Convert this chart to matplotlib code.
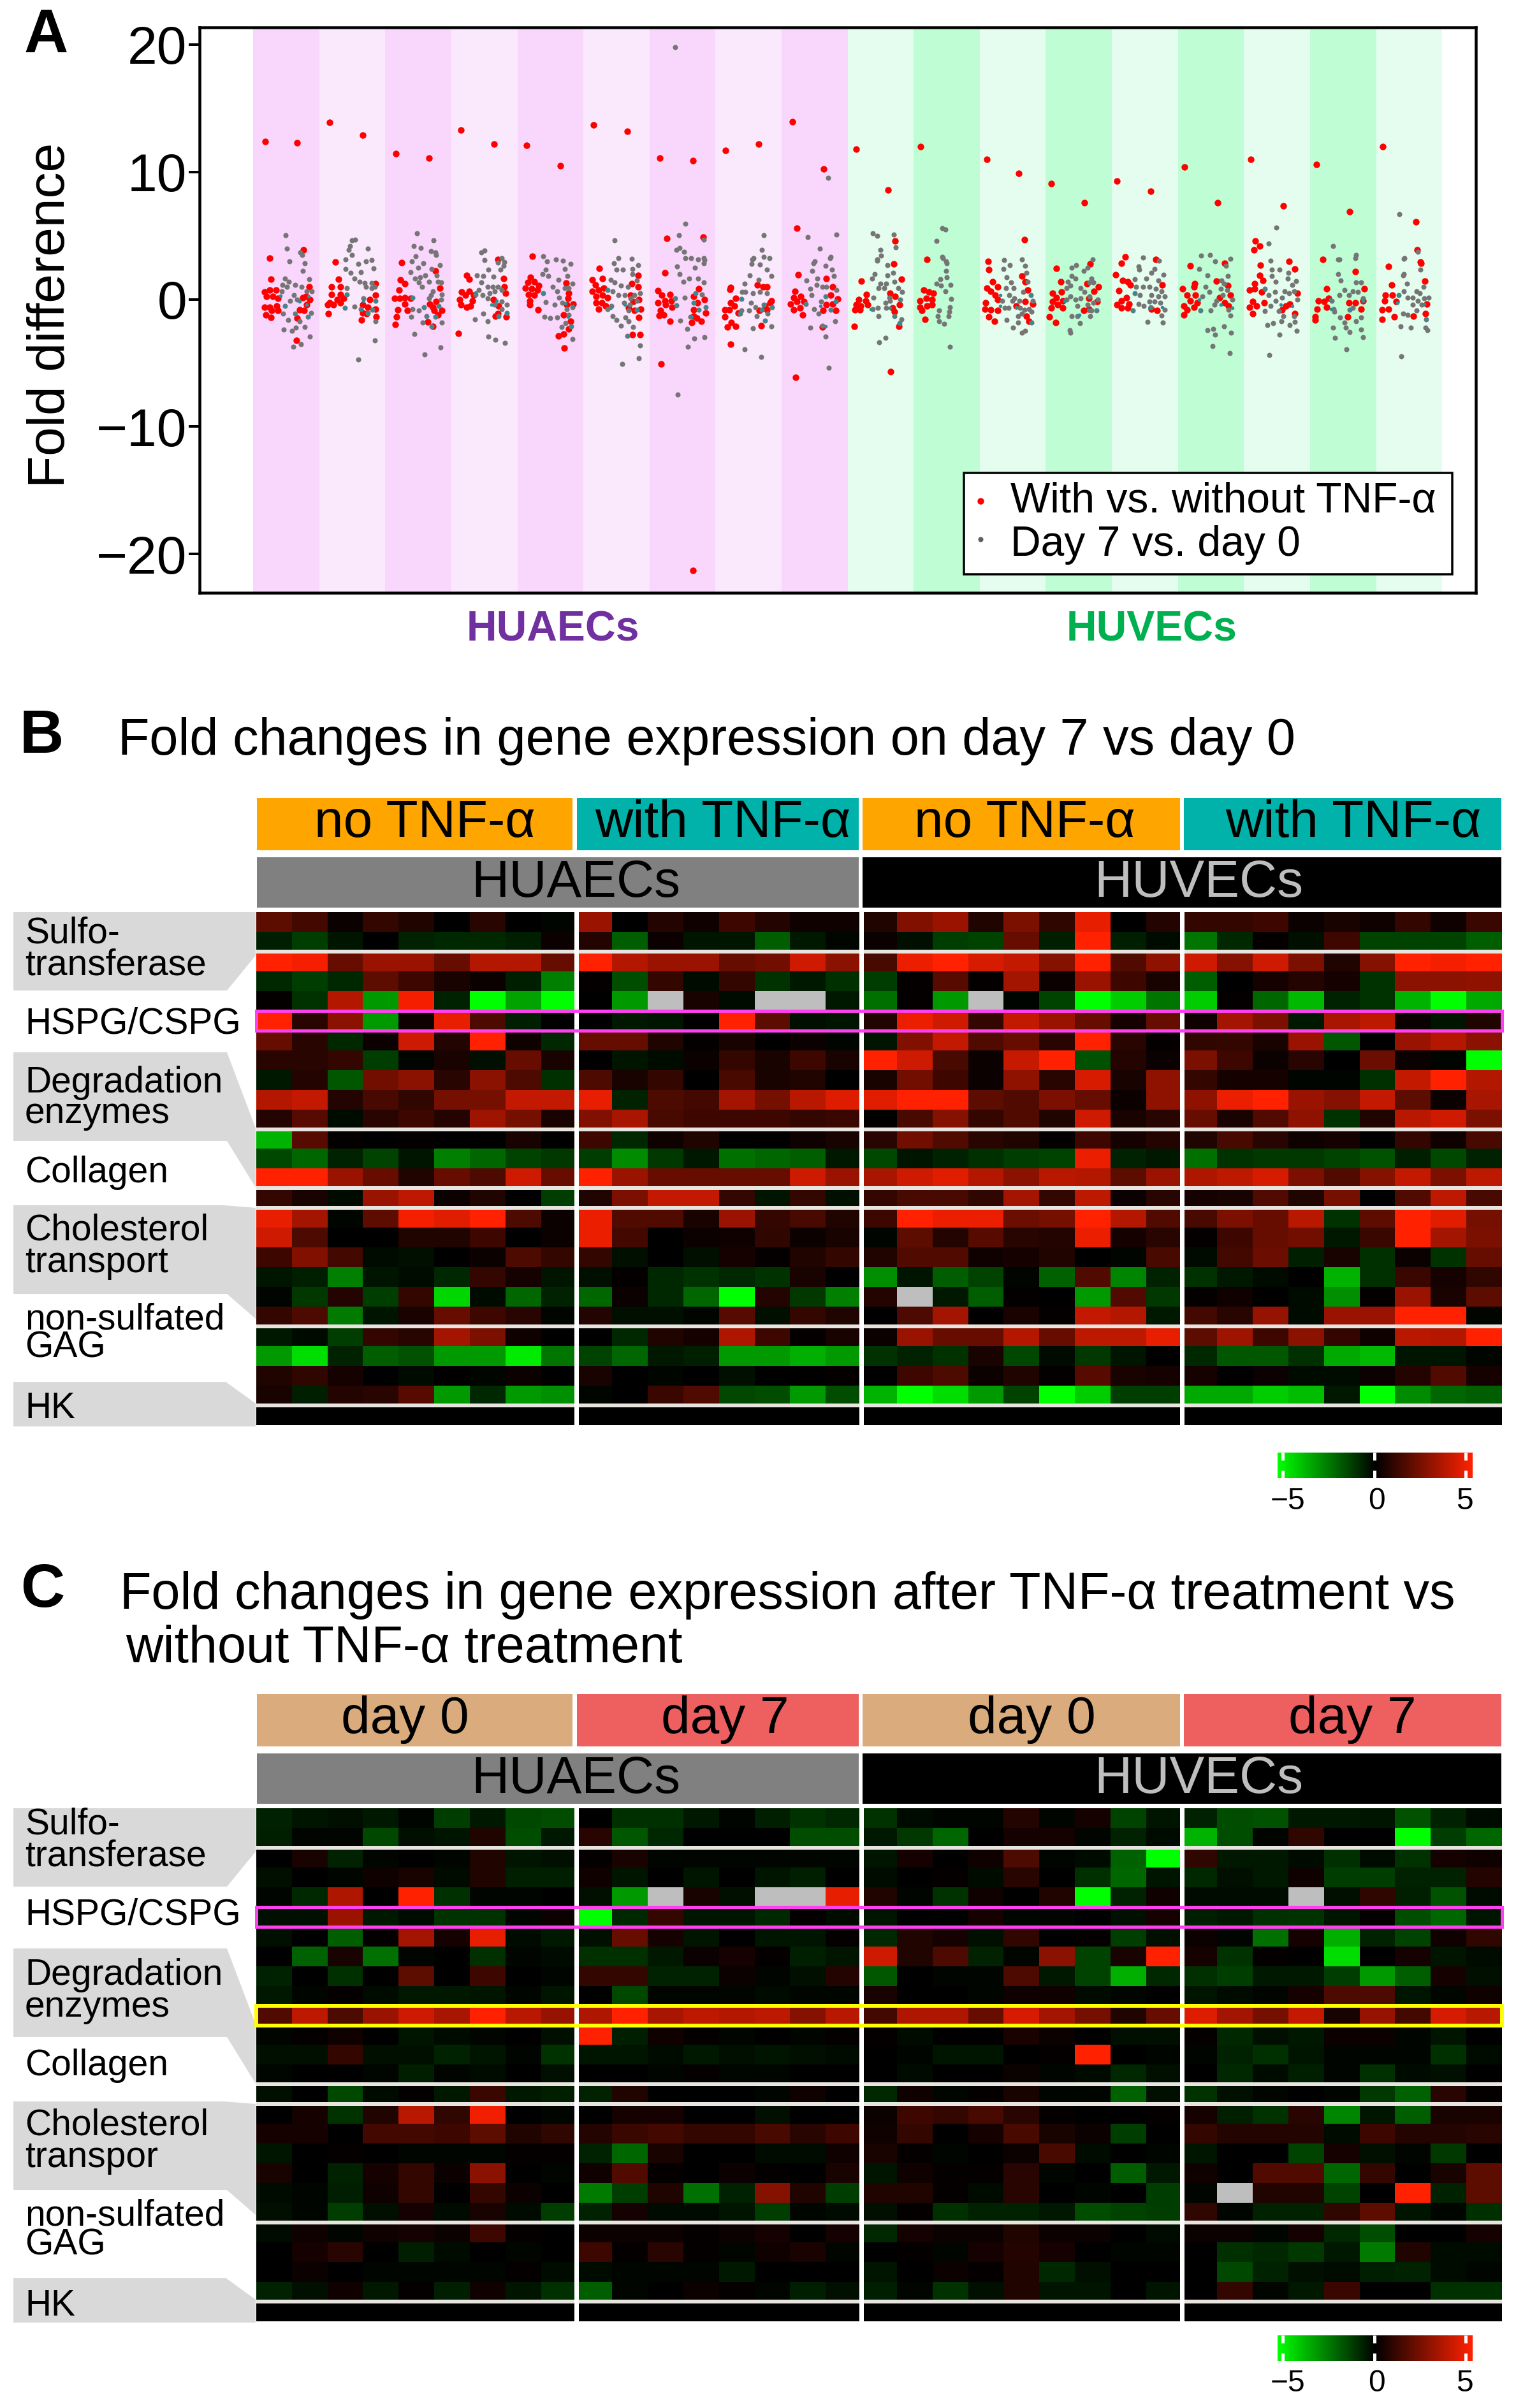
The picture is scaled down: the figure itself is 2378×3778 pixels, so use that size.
import numpy as np
import matplotlib
matplotlib.use('Agg')
import matplotlib.pyplot as plt
from matplotlib.colors import LinearSegmentedColormap, Normalize
from matplotlib.cm import ScalarMappable
from matplotlib.patches import Rectangle, Polygon

plt.rcParams['font.family'] = ['Liberation Sans', 'DejaVu Sans']

W, H = 2378, 3778
na = float('nan')

# panel A, one list per band: (percent across band, fold difference)
red_pts = [
 [(18,12.4),(67,12.3),(25,3.25),(27,1.6),(17,.6),(25,.75),(35,.75),(20,.25),(30,.25),(38,.1),(17,-.6),(25,-.6),(36,-.5),(38,-.9),(28,-.9),(19,-1.25),(27,-1.45),(76,3.9),(85,1),(75,.15),(86,0),(80,.25),(70,-.85),(77,-.9),(67,-1.5),(66,-3.25),(81,-.4)],
 [(16,13.9),(66,12.9),(24,2.95),(29,1.6),(19,1),(32,1),(19,.4),(32,.4),(37,.1),(27,0),(16,-.25),(13,-.4),(22,-.4),(32,-.25),(14,-1.15),(85,1.25),(85,.35),(77,0),(66,-.4),(74,-.6),(85,-.75),(66,-1.1),(72,-1.15),(64,-1.65),(86,-1.4)],
 [(16,11.45),(66,11.1),(25,2.9),(23,1.55),(30,1.25),(21,.75),(14,.1),(22,.1),(30,.15),(38,.1),(30,-.35),(19,-.85),(34,-.9),(17,-1.4),(15,-2),(76,2.25),(83,.9),(67,-.35),(77,-.15),(86,-.9),(74,-.9),(80,-1.25),(72,-.6),(64,-1.8),(72,-2.15)],
 [(15,13.3),(65,12.2),(23,1.9),(27,1.6),(16,.6),(27,.65),(34,.35),(13,0),(32,-.1),(15,-.4),(23,-.6),(29,-.5),(21,.35),(11,-2.7),(79,1.65),(80,1),(82,.5),(64,0),(72,-.5),(67,-1.35),(83,-1.4),(71,-1.15),(71,3.15)],
 [(14,12.1),(65,10.5),(23,3.4),(20,1.75),(16,1.35),(26,1.4),(32,1.1),(12,.9),(22,.85),(30,.75),(17,.4),(26,.35),(19,-.1),(19,-.4),(31,-.8),(74,1.3),(78,.5),(84,-.35),(75,-.4),(70,-1.25),(81,-1.75),(78,-2.35),(70,-2.75),(62,-2.9),(71,-3.85),(77,.1)],
 [(15,13.7),(66,13.2),(24,2.45),(13,1.55),(29,1.65),(18,1.15),(13,.65),(23,.75),(31,.9),(19,.25),(29,.35),(37,.15),(19,-.25),(28,-.25),(23,-.75),(34,-.5),(83,1.9),(73,1.25),(83,1),(71,.35),(84,0),(75,-.15),(68,-.65),(87,-.75),(77,-.9),(84,-1.45),(74,-2.8),(86,-2.8)],
 [(16,11.1),(66,10.9),(26,4.8),(81,4.9),(66,-21.3),(23,2.1),(13,.7),(19,.35),(31,.4),(13,-.25),(23,-.1),(33,-.1),(24,-.4),(34,-.6),(17,-.9),(15,-1.3),(21,-1.25),(31,-1.75),(18,-5.1),(75,.85),(67,.25),(83,0),(73,-.25),(67,-.85),(85,-1.1),(67,-1.35),(64,-1.85),(78,-1.75),(72,-1.5)],
 [(15,11.7),(65,12.2),(23,.95),(22,.8),(31,.1),(23,-.25),(14,-.85),(29,-.5),(21,-.85),(34,-1.1),(14,-1.4),(24,-1.85),(18,-2.2),(31,-2.15),(23,-3.55),(63,1.15),(72,1),(78,1),(85,-.1),(75,-.5),(66,-.9),(78,-.8),(69,-2.1),(83,-.25)],
 [(16,13.95),(64,10.25),(23,5.6),(25,1.95),(20,.65),(18,.15),(29,.25),(14,-.35),(23,-.15),(34,-.15),(18,-.85),(28,-.65),(32,-1.25),(21,-6.15),(68,1.65),(77,1),(74,.35),(85,.05),(68,-.4),(77,-.35),(82,-.9),(63,-.9),(62,-2.2)],
 [(13,11.8),(61,8.6),(72,4.6),(21,1.45),(70,2.8),(81,1.6),(28,.4),(17,0),(27,-.1),(13,-.4),(20,-.5),(30,-.4),(11,-.85),(19,-.85),(10,-2.15),(64,.5),(72,.25),(68,-.65),(79,-.4),(71,-1),(78,-2.15),(65,-5.7)],
 [(10,12),(20,3.15),(15,.75),(23,.6),(30,.5),(9,-.1),(19,.1),(28,0),(9,-.6),(12,-.9),(20,-.5),(28,-.4),(17,-1.6)],
 [(11,11),(59,9.9),(13,3),(14,2.35),(19,1.4),(11,.9),(27,1),(17,.65),(23,.35),(9,-.25),(27,0),(8,-.75),(17,-.85),(27,-.9),(14,-1.4),(22,-1.75),(68,4.7),(64,1.85),(69,1.4),(73,.75),(69,-.15),(80,-.35),(55,-.5),(71,-1.35),(74,-1.75)],
 [(8,9.1),(58,7.6),(16,2.45),(23,1.4),(10,.5),(24,.6),(16,.15),(26,-.1),(10,-.15),(18,-.4),(8,-.65),(26,-.65),(5,-1.4),(15,-1.85),(67,2.8),(62,1.25),(80,1),(73,.65),(78,-.15),(65,.1),(57,-.9),(65,-.75)],
 [(8,9.3),(59,8.5),(20,3.35),(14,2.85),(6,1.95),(16,1.5),(24,1.4),(28,1.15),(11,.7),(22,.15),(14,-.1),(8,-.4),(26,-.35),(14,-.65),(24,-.65),(67,3.15),(76,1.15),(60,-.75),(68,-.9)],
 [(10,10.4),(60,7.6),(19,2.65),(25,1.25),(7,.85),(24,1),(14,.35),(26,.35),(9,-.5),(19,-.1),(29,-.25),(14,-.85),(24,-.6),(9,-1.25),(58,1.45),(71,2.85),(76,1.1),(63,.15),(79,.35),(71,-.25),(77,-.5)],
 [(10,11),(60,7.35),(17,4.6),(24,4.2),(15,3.9),(25,2.7),(68,3),(77,2.4),(24,1.9),(29,1.5),(16,1.25),(8,.75),(16,.85),(27,.6),(31,-.25),(13,-.15),(8,-.6),(19,-.5),(13,-1.15),(81,.5),(63,-.5),(69,-.35),(58,-.85),(77,-1.15)],
 [(10,10.6),(60,6.9),(19,3.15),(69,2.2),(25,.85),(82,.85),(28,.1),(13,-.1),(21,-.15),(11,-.75),(25,-.6),(8,-1.4),(8,-1.65),(59,-.25),(69,-.25),(77,-.75),(57,-1.4),(80,-.1)],
 [(10,12),(60,6.1),(62,3.9),(67,2.95),(19,2.6),(68,2.85),(24,1.15),(74,1.45),(14,.35),(25,.35),(13,-.1),(30,-.15),(9,-.85),(19,-.75),(27,-1.4),(9,-1.6),(56,-1.35),(75,-1.15),(77,-.35)],
]

gray_pts = [
 [(49,5.05),(51,4),(71,3.7),(48,1.65),(44,1.15),(51,1),(43,.65),(54,1.4),(64,1.15),(73,1),(81,.65),(85,1.6),(78,2.85),(75,2.25),(55,3),(74,3.5),(62,.35),(56,-.1),(67,0),(48,-.5),(45,-1.15),(64,-1.15),(53,-1.65),(88,-1.1),(83,-1.4),(70,-1.75),(65,-2.25),(59,-2.5),(46,-2.4),(78,-2.2),(86,-2.95),(72,-3.55),(61,-3.75),(89,.65)],
 [(50,4.65),(47,4.2),(54,4.7),(45,3.9),(74,4),(40,2.4),(48,2.1),(53,1.65),(61,1.4),(69,1.3),(79,1.3),(79,.9),(71,1),(84,1),(59,2.8),(63,2.15),(40,3.15),(71,3),(79,3.1),(82,2.45),(42,.9),(42,.4),(67,.1),(85,-.1),(39,-.65),(53,-.55),(63,-.75),(80,-.8),(74,-1.1),(85,-1.75),(84,-3.25),(59,-4.75),(50,3.5)],
 [(48,5.2),(73,4.65),(43,4.2),(54,4.05),(69,3.8),(76,3.7),(40,3),(58,2.85),(50,2.5),(38,2.15),(83,2.7),(70,2.4),(46,3.4),(77,3.5),(45,1.65),(53,1.75),(61,1.9),(66,1.4),(56,1),(51,1.35),(78,1.9),(80,1.4),(85,1.35),(72,.65),(69,.35),(66,.1),(86,.4),(85,0),(81,-.5),(41,.15),(41,-.75),(51,-.9),(59,-.6),(62,-1.35),(76,-1.4),(39,-1.4),(57,-1.85),(70,-2.15),(86,-1.85),(44,-2.75),(84,-3.8),(60,-4.35)],
 [(50,3.85),(45,3.7),(76,3.25),(80,2.95),(50,3.1),(71,2.9),(79,2.65),(74,2.35),(56,2.35),(39,1.9),(48,1.85),(64,1.8),(45,1.35),(42,.75),(37,.4),(47,.35),(55,1),(63,1),(71,1),(58,.5),(66,.65),(55,.1),(76,.75),(66,-.4),(76,-.15),(84,-.4),(76,-.75),(84,-1.1),(72,-1.35),(48,-1.15),(55,-1.75),(36,-1.6),(56,-2.95),(67,-3.2),(81,-3.45)],
 [(39,3.4),(45,3),(58,3.15),(69,3.05),(81,2.8),(72,2.4),(76,1.85),(62,1.55),(43,2.35),(38,2),(47,1.85),(83,1.25),(54,1),(60,.65),(72,.9),(78,.9),(63,.15),(68,-.25),(39,.5),(43,-.2),(56,-.4),(75,-.75),(83,-.6),(78,-1.25),(41,-1.4),(50,-1.5),(60,-1.45),(73,-1.9),(67,-2.2),(82,-2.15),(83,-3.15)],
 [(47,4.65),(53,3.25),(73,3.2),(83,2.7),(46,2.85),(50,2.35),(60,2.35),(74,2.4),(74,2),(81,1.5),(41,1.55),(47,1.35),(57,1.1),(37,.75),(44,.65),(53,.35),(67,1),(63,.35),(62,-.25),(71,.1),(77,.35),(86,.5),(70,-.4),(81,-.1),(37,-.75),(42,-.5),(68,-.9),(81,-.85),(64,-1.45),(68,-1.75),(44,-1.35),(50,-1.65),(57,-2.1),(75,-2.2),(66,-2.9),(86,-3.65),(84,-4.65),(59,-5.1)],
 [(39,19.8),(54,5.95),(45,5.05),(46,4.05),(82,4.7),(41,3.9),(52,3.75),(63,3.25),(82,3.25),(54,3.25),(69,2.5),(74,3.15),(83,3.1),(82,2.85),(42,2.6),(46,2),(51,1.4),(60,1.65),(74,1.65),(82,1.35),(39,.1),(41,-.45),(53,.15),(70,.5),(79,.4),(67,-.25),(85,-.6),(75,-.8),(62,-1.4),(47,-1.7),(57,-2.35),(68,-3.1),(83,-3),(58,-3.75),(43,-7.5)],
 [(73,5.05),(70,3.9),(55,2.8),(58,3.25),(56,3.15),(73,3.35),(82,3.25),(67,2.75),(78,2.35),(85,1.85),(52,1.9),(44,1.25),(40,.6),(45,.6),(57,.5),(67,.6),(78,.5),(65,1.55),(39,.05),(54,-.25),(60,-.6),(73,-.4),(86,-.6),(70,-.85),(39,-.9),(37,-1.15),(51,-.9),(62,-1.35),(79,-1.15),(75,-1.7),(57,-2.3),(85,-2.15),(44,-3.95),(69,-4.55)],
 [(70,9.55),(40,4.9),(83,5.1),(58,4),(74,3.35),(50,3),(73,3.25),(48,2.85),(46,2.25),(38,1.5),(67,2.65),(76,2.35),(79,1.85),(54,1.65),(53,1.15),(43,.85),(62,1),(68,1),(45,.35),(83,.75),(60,-.15),(67,.25),(37,-.35),(49,-.75),(56,-1.15),(82,-.15),(74,-.85),(81,-1.75),(62,-2.1),(43,-2.25),(67,-2.95),(71,-5.4)],
 [(38,5.2),(45,5),(70,5.1),(73,4.1),(50,3.9),(45,3.15),(45,3.05),(60,2.7),(51,3.45),(69,2.1),(60,1.9),(41,2),(37,1.65),(50,1.25),(47,.9),(58,1.25),(55,.9),(71,1.4),(77,.9),(82,.6),(39,.15),(38,-.75),(46,-.65),(57,-.25),(63,.15),(58,-.65),(64,-.1),(80,0),(47,-1.35),(71,-1.35),(81,-1.6),(79,-1.9),(57,-3.05),(48,-3.4)],
 [(43,5.6),(35,4.6),(48,5.5),(43,3.35),(49,3),(44,3.25),(50,2.85),(49,2.25),(50,1.75),(40,1.6),(35,1.25),(41,1.1),(48,.65),(56,1.15),(57,.05),(55,-.6),(54,-1),(53,-1.35),(38,-.9),(36,-1.35),(38,-1.75),(46,-1.95),(55,-3.75)],
 [(37,3.1),(46,2.7),(36,2.4),(64,3.15),(69,2.65),(71,2.1),(41,1.75),(47,1.35),(40,.9),(51,.9),(73,1.4),(45,.35),(52,.1),(60,-.1),(34,-.1),(38,-.65),(44,-.65),(49,-.1),(61,-.65),(68,-.85),(77,.35),(80,-.1),(74,-.75),(58,-1.35),(64,-1.15),(78,-1),(41,-1.65),(50,-2.25),(78,-1.85),(64,-2.65),(58,-1.85),(69,-2.5),(66,.6)],
 [(46,2.7),(39,2.5),(71,3.15),(63,2.5),(57,2.25),(39,1.85),(45,1.65),(33,1.4),(37,1.1),(31,.9),(53,.9),(69,1.65),(66,1.35),(72,1.35),(58,.6),(37,.25),(31,0),(45,0),(53,.1),(48,-.5),(66,.25),(79,0),(72,-.25),(63,-.4),(69,-.9),(77,-.9),(39,-1.35),(48,-1.35),(67,-1.35),(52,-1.9),(36,-2.45),(37,-2.65)],
 [(47,3.3),(71,3.05),(40,2.6),(41,2.35),(65,2.4),(60,2.1),(78,1.95),(70,1.5),(35,1.6),(52,1.65),(37,1),(47,1),(57,1),(35,.5),(42,.35),(67,.85),(75,.65),(60,.35),(70,.25),(80,.25),(40,-.35),(57,-.15),(65,-.15),(73,-.25),(48,-.5),(59,-.6),(32,-.9),(80,-.8),(75,-1.3),(54,-1.8),(77,-1.85)],
 [(35,3.45),(49,3.5),(56,3),(79,3.2),(73,2.65),(32,2.4),(45,1.9),(76,1.85),(66,1.5),(42,1),(48,.6),(70,1.25),(65,.85),(75,.75),(37,.25),(58,-.1),(68,.35),(82,0),(55,-.4),(34,-.9),(50,-.9),(77,-.85),(79,-1.3),(45,-2.45),(53,-2.35),(56,-2.8),(70,-2.15),(80,-2.65),(52,-3.7),(78,-4.25)],
 [(49,5.65),(37,4.4),(40,3.05),(42,2.35),(42,1.85),(48,1.4),(54,2.35),(67,2.1),(66,1.65),(79,1.45),(32,.85),(37,.35),(47,.6),(48,-.1),(61,.65),(73,1.15),(76,.65),(68,.5),(58,.15),(81,0),(40,-.5),(32,-.95),(53,-.95),(60,-1.35),(57,-1.75),(76,-1.35),(77,-1.8),(69,-2.05),(35,-2.05),(44,-1.9),(80,-2.5),(54,-2.8),(38,-4.4)],
 [(35,4.2),(70,3.5),(44,3.15),(43,3.15),(69,3.25),(43,2),(46,1.5),(70,1.35),(77,1.35),(65,.65),(52,.75),(44,.35),(59,.35),(72,.6),(80,.1),(33,-.1),(36,-.75),(37,-1),(60,-.85),(65,-.65),(45,-1.45),(52,-1.85),(54,-2.25),(70,-1.75),(77,-1.45),(35,-2.25),(60,-2.6),(77,-2.4),(80,-3),(38,-3.05),(55,-3.95)],
 [(35,6.7),(43,3.25),(63,3.75),(42,2),(42,3.2),(47,1.25),(67,2.35),(41,1.9),(72,1),(66,.5),(55,.15),(63,-.1),(73,.1),(80,.15),(48,.15),(34,.35),(42,.65),(61,.65),(55,-.4),(69,-.4),(41,-1.15),(48,-1.25),(61,-.9),(76,-1.6),(37,-2.15),(53,-2.25),(75,-2.25),(78,-2.45),(38,-4.5)],
]

# points where the grey sits on the red and prints teal
teal_pts = [
 [(41,.3),(48,-.5),(70,-.15),(81,-.4),(84,.25),(64,-1.2),(84,-1.4)],
 [(42,.4),(67,-.1),(85,-.1),(64,-.8),(39,-.65),(74,-1.1),(80,-.8)],
 [(42,.15),(59,-.6),(82,-.55),(62,-1.35),(76,-1.4),(70,-2.15)],
 [(37,.55),(69,-.1),(61,-.4),(84,-1.1),(72,-1.4)],
 [(39,.5),(73,-.3),(83,-.5),(77,-1.4),(82,-2.15)],
 [(37,.8),(41,-.65),(63,-.4),(81,-.85),(67,-2.9)],
 [(39,.1),(41,-.45),(70,.5),(67,-.25),(75,-.8),(64,-1.4),(85,-.6)],
 [(39,.05),(37,-1.1),(73,-.4),(86,-.6),(70,-.85),(75,-1.7)],
 [(37,-.35),(67,.25),(59,-.5),(74,-.85),(81,-.15),(67,-2.15)],
 [(35,-.75),(64,-.65),(80,0),(71,-1.35),(79,-1.9)],
 [],
 [(31,.35),(31,-.5),(55,-.6),(77,.35),(78,-1.85)],
 [(29,-.1),(64,-.85),(77,-.9),(51,-1.25)],
 [(32,-.9),(35,.5),(57,-.65),(76,-.6)],
 [(32,0),(34,-.9),(65,-.4),(82,-.65)],
 [(32,.75),(56,-.4),(73,-.5)],
 [(31,0),(32,-.75),(60,-.75),(80,-.1)],
 [(32,-.25),(34,.35),(73,-.35),(76,-1.6)],
]

# panel B, fold changes day 7 vs day 0
b_huaec = [
 [1.8,1.3,.2,1,.6,0,.8,0,-.1, 3,0,.7,.3,1.2,.7,.3,.3],
 [-.6,-1.2,-.4,0,-.7,-.8,-.8,-.6,.2, .7,-1.8,.2,-.4,-.4,-1.8,-.5,-.1],
 [5,4.8,2,3,3,2,3.5,3.5,2, 5,3.5,3,3,2,2.2,4,2.7],
 [-.8,-1.2,-.8,1.8,1.2,.5,.2,-.6,-2.5, .1,-1.5,1,-.2,1,-1,-.5,-.9],
 [.1,-1,3.5,-3,4.8,-.7,-5,-3.2,-5, 0,-3,na,.5,-.2,na,na,-.5],
 [5,.8,2.7,-3,.3,4.5,1.5,-.6,0, 0,-.5,-.4,0,5,1.8,-.3,-.4],
 [2,.8,-.8,.2,4,.7,5,.3,-.8, 2,2,.6,.1,.5,0,.2,-.1],
 [.8,.8,1,-1.2,-.1,.5,-.3,2,.5, 0,-.4,-.2,.2,1,.5,1.2,.5],
 [-.5,.7,-1.7,2.2,2.7,.8,2.7,1.5,-.9, 1.5,.5,1,0,1.4,.5,.6,0],
 [3.5,3.8,.7,1.4,.9,2.3,2.3,3.8,3.8, 4.5,-.7,1.5,1.3,3.2,2.3,3.6,4.3],
 [.7,1.7,-.2,.8,1.2,.7,3.1,2.3,.5, 2.5,3.3,1.4,1.2,1.2,1.2,1,1.1],
 [-3.5,1.7,.1,0,.1,0,0,.5,0, 1.2,-.8,.3,.6,0,0,.3,.5],
 [-1.4,-2,-.7,-1.3,-.4,-2.5,-2,-1.3,-1.1, -1.2,-2.7,-1.1,-.5,-2.2,-2,-1.8,-.5],
 [5,5,3,2,.6,2,1.5,4,2, 5,3,2,2,2,2,4,3],
 [1,.5,-.2,3,3.7,.2,.6,0,-1.2, .6,2.4,3.8,3.8,1,-.4,1,-.3],
 [4.5,3.2,-.1,1.8,4.8,4.4,5,1.5,.2, 4.6,1.6,1.6,.5,3,1,1.4,.6],
 [4,1.5,0,0,.6,.6,1.2,0,.2, 4.6,1.3,0,.2,.3,.9,.2,.5],
 [1.2,2.5,1.3,-.2,-.3,0,.2,1.5,1, 1,-.3,0,-.3,.4,.1,.6,1],
 [-.4,-.6,-2.5,-.4,-.2,-.8,1,.4,-.4, -.3,.1,-.8,-1,-.8,-1,.5,0],
 [-.1,-1.1,.7,-1.2,1,-4.2,-.2,-2,-.7, -2,.2,-.8,-2,-5,.7,-1.1,-2.5],
 [1,1.5,-2.4,-.4,.5,2,1.2,.8,-.1, .7,-.3,-.3,-.1,1.7,-.3,1,.6],
 [-.5,-.2,-1.2,1,.8,3.2,2.4,.3,0, 0,-.8,.6,.4,3.4,1.2,.1,.5],
 [-3,-4.3,-.7,-1.8,-1.6,-3,-3,-4.6,-2.3, -1.3,-2,-.5,-.6,-3,-3,-3.4,-3],
 [.6,.9,.4,0,-.2,0,-.1,.2,0, .5,0,-.1,0,-.3,0,0,.1],
 [.5,-.6,.7,.8,1.7,-3,-.8,-3,-2.8, -.1,0,1.1,1.6,-1.4,-1.5,-3,-1.5],
 [0,0,0,0,0,0,0,0,0, 0,0,0,0,0,0,0,0],
]
b_huvec = [
 [.6,2.5,3,.6,2.4,.9,4.5,0,.7, 1,1,1.2,.2,.5,.3,1,.3,1.1],
 [.2,-.3,-1.2,-1.3,2,-.6,5,-.6,-.2, -2.3,-.8,.1,-.3,1.2,-1.3,-1.3,-1.3,-1.8],
 [1.4,4.6,5,4.2,3.8,2.6,5,1.6,2.8, 4,2.6,4,2.4,.6,2.6,5,4.8,5],
 [-1.2,.1,1.7,.1,3.2,.2,3,1.2,.5, -1.8,0,.4,.7,.4,-1,2.7,2.7,2.8],
 [-2.2,.1,-3,na,-.1,-1.3,-5,-4,-2.3, -4,.1,-2,-3.6,-.7,-1,-3.5,-5,-3.3],
 [.6,4.6,4,1,3.8,3,2,.4,2, .3,3.2,2.4,-.5,3.3,3.7,.2,-.4,.6],
 [-.4,2.5,3.8,1.6,2,.8,5,.8,.1, .9,1,.5,3,-1.7,0,3,3.5,2.7],
 [5,4,1.4,.2,3.9,5,-1.6,.7,.2, 2.4,1.2,.2,.8,0,2.1,.2,-.1,-5],
 [.5,2.2,1.2,.2,2.8,.8,4.2,.5,2.8, 1,.4,.4,-.1,-.1,-.9,3.8,5,3.5],
 [4.4,5,5,1.8,1.6,2.4,2,.2,2.8, 2.8,4.6,5,3,2.6,3.8,1.8,.2,3.3],
 [0,1.4,2.6,1,1.6,.6,4,.5,.8, 2,.5,1.6,2.8,-1,.6,3.6,4,2.4],
 [.8,2.2,1.6,.8,.6,.1,1.2,.4,.7, .6,1.4,.8,.3,.4,0,1,.3,1.4],
 [-1.4,-.4,-.7,-.9,-1.2,-1.3,4.6,-.7,-.5, -2.2,-1,-1.1,-1.1,-1.3,-1.6,-.6,-1.4,-.7],
 [3.3,4,4.4,3.5,2.7,3.6,3.5,1.8,3, 3.4,3.7,4.2,2.4,1.6,2.6,3.8,2.4,3.7],
 [1,1.4,1.4,.9,3.2,1,3.7,.2,.8, .4,.5,1.6,.6,2.3,0,1.6,3.7,1.4],
 [1.2,5,4.6,4.6,2.1,2.3,5,3.5,1.6, 1.4,2.4,2,3.6,-1,1.8,5,4.4,2.3],
 [-.1,1.8,.7,1.7,.8,.7,4.6,.4,.8, .1,1.2,2,2.2,-.5,1.1,5,3.2,2.4],
 [.6,1.6,1.6,.3,.4,.6,0,-.1,1.4, -.2,1.3,2.1,-.6,.5,-.9,.2,-1,2],
 [-2.8,-.4,-1.8,-1.3,-.1,-1.9,1.6,-2.6,-.7, -1,-.5,-.2,0,-3.5,-.9,1.1,.4,.9],
 [.7,na,-.5,-1.8,.1,0,-3,1.6,-1.1, .1,.3,0,-.2,-2.8,.1,3,.5,1.8],
 [0,1.5,3.2,0,.5,.1,3.8,3.5,-.5, 1.3,.8,2.9,-.2,3,3,5,5,-.1],
 [.2,3,2,2,3.5,2,3.7,3.7,4.5, 1.8,3.1,1.2,2.7,1,.3,3.6,3.5,5],
 [-1,-.7,-1,.5,-1.4,-.2,-1.1,-.4,0, -.8,-1.7,-1.7,-.9,-3.3,-3.6,-.4,-.4,-.1],
 [0,1.2,1.5,.2,.6,.1,1.7,.5,.4, .4,0,.2,-.2,-.2,.2,.7,1.6,.4],
 [-3.5,-5,-4.3,-3,-1.3,-5,-4,-1.2,-1.2, -3.3,-3.3,-4,-3.7,-.5,-5,-2.7,-2,-1.8],
 [0,0,0,0,0,0,0,0,0, 0,0,0,0,0,0,0,0,0],
]

# panel C, fold changes with vs without TNF-a
c_huaec = [
 [-.7,-.4,-.3,-.5,-.1,-1.2,-.5,-1.4,-1.5, 0,-.9,-.9,-.5,-.1,-.6,-1,-.8],
 [-.6,-.1,-.1,-1.4,-.3,-.4,.6,-1.5,-.5, .8,-1.7,-.8,0,0,0,-1.5,-1.5],
 [0,.5,-.7,-.1,0,-.1,.6,-.4,-.3, .1,.5,-.1,-.1,-.1,-.1,-.1,-.1],
 [-.3,0,-.1,.3,.5,-.2,.6,-.6,-.6, .3,-.4,0,-.4,0,-.4,-.6,0],
 [-.1,-.8,3.4,0,5,-.9,-.1,-.1,0, -.3,-3,na,.5,-.3,na,na,4.5],
 [-.3,-.3,3,-.5,-.2,-1,-1,-.1,.2, -5,-.8,1,-.4,-.4,-.8,.1,-.2],
 [-.3,0,-1.8,.1,3.2,.4,4.5,-.2,-.5, -.3,2,.4,-.4,0,-.4,-.4,.1],
 [0,-1.9,.5,-2.2,-.1,0,-.9,-.1,-.2, -.9,-.9,-.5,.2,.4,.1,-.6,-.4],
 [-.7,0,-.9,0,1.8,0,1.2,0,-.1, 1,1,-.7,-.7,.2,-.1,-.3,.7],
 [-.5,-.1,.1,-.2,-.5,-.5,-.4,-.1,-.4, 0,-1.4,-.1,-.1,-.1,-.2,-.1,-.1],
 [1.6,3.7,1.5,3,4,3.3,5,3.6,2.9, 3.4,5,3.3,3.7,3.5,3.7,2.6,3.6],
 [-.1,.1,.3,0,-.4,-.2,-.1,0,-.3, 5,-.6,.3,.1,-.1,0,-.1,.1],
 [-.3,-.3,1,-.3,-.3,-.7,-.4,-.1,-1, -.4,-.4,-.2,-.5,-.3,-.4,-.3,-.2],
 [-.1,0,0,-.1,-.6,-.1,-.2,0,-.3, 0,0,-.1,.1,-.1,-.1,0,0],
 [-.3,0,-1.4,-.2,.1,-.5,1.1,-.5,-.6, -.7,.6,0,0,0,-.1,.3,0],
 [0,.4,-1,.6,3.6,.9,4.7,0,-.1, 0,.4,.4,0,0,-.3,0,0],
 [.4,.4,0,1.3,1.3,1.2,1.8,.6,.9, .7,1.1,1.3,1,1,1.4,.8,1.2],
 [-.4,0,.1,0,-.1,-.1,-.1,.1,.1, -.7,-2,.5,0,0,-.2,-.2,.3],
 [.5,0,-.7,.4,1,.2,2.7,0,-.1, .3,1.6,.1,0,.2,.1,0,.5],
 [-.2,-.1,-.6,.3,1,0,1,.2,0, -2.4,-1.2,.6,-2.2,-.7,2.6,.6,-1.2],
 [-.3,-.1,-1.2,-.3,.4,-.2,.5,-.2,-1.2, -.7,.4,-.2,-.2,-.4,-1.2,-.1,-.2],
 [-.2,.3,-.1,.3,.4,.2,1.2,.1,0, .2,.2,.2,.1,.2,.4,0,.4],
 [0,.4,.8,0,-.6,-.2,0,-.1,0, 1.2,.1,.8,.1,-.1,.3,.5,-.1],
 [0,.2,0,-.1,-.1,-.1,-.1,.1,-.2, -.2,-.1,-.1,-.1,-.5,0,0,0],
 [-.7,-.3,.3,-.5,.1,-.6,.3,-.4,-.9, -1.8,-.1,0,.2,.1,-.1,-.6,-.3],
 [0,0,0,0,0,0,0,0,0, 0,0,0,0,0,0,0,0],
]
c_huvec = [
 [-1,-.2,-.1,-.1,.7,-.1,.4,-1.3,-.4, -.7,-1.5,-1.6,-.5,-.5,-.4,-1.6,-.7,-.2],
 [-.5,-1.1,-2,0,.4,.4,-.1,-.7,-.2, -3.5,-1.5,-.1,.9,0,0,-5,-1.2,-2],
 [-.4,.4,0,.3,1.5,-.1,-.2,-1.9,-5, .9,-.5,-.5,-.2,-.9,-.2,-1,.4,.3],
 [-.2,0,.1,-.2,.8,0,-.9,-2,-.4, -.8,-.3,-.5,.3,-1.2,-1.2,-.7,-.7,.7],
 [.6,-.1,-1,.3,0,.6,-5,-.7,.3, -.2,-.2,-.2,na,-.3,.9,-.6,-1.6,-.2],
 [-.4,0,0,.4,-.1,-.1,0,-.3,.4, -.6,-.5,-.9,-1,-.4,.1,-1.5,-2,-.4],
 [-.8,.6,.4,-.3,.9,0,.1,-1.2,-.3, .2,-.1,-2.2,.4,-3.4,-.7,-1.3,.3,.9],
 [4,.6,1.5,-.7,-.1,2.7,-1.3,.5,5, .4,-1,.1,0,-4.3,0,.4,-.4,-.2],
 [-1.7,0,-.1,-.1,1.5,-.5,-1.3,-3.4,-.8, -.9,-1.2,-.5,-.5,-1.2,-3,-1.8,.4,-.3],
 [.5,0,0,-.1,.3,.3,-.2,-.1,0, -.4,-.2,-.1,.4,1.5,1.5,-.4,-.1,.3],
 [1.3,3.4,3.4,2,4.2,3.2,2.3,.6,2, 4.3,3.2,2.3,3.8,.5,2.9,1.3,4.2,3.6],
 [.1,-.2,0,0,.5,.2,0,-.3,-.3, .1,-.8,-.3,-.5,.2,.2,-.1,-.4,0],
 [0,-.1,-.4,-.4,0,.1,5,0,-.1, -.1,-.7,-.9,-.4,-.1,-.1,-.1,-.9,-.2],
 [0,-.2,0,0,.2,-.1,-.2,-.8,-.3, 0,-.8,-.2,-.6,-.1,-.9,-.2,-.3,0],
 [-.8,.3,-.1,.1,.5,-.1,-.1,-1.9,-.3, -1,-.3,-.1,0,-.1,-1.1,-1.9,.8,.1],
 [.2,1.2,1,1.4,.8,.1,0,0,.1, .4,-.6,-1,.8,-2.6,-.4,-1.8,.5,.5],
 [.3,1,0,.4,1.4,.5,.2,-1.2,0, 1,.7,.7,.7,-.2,1.2,.7,.7,.8],
 [.5,.1,-.1,0,.2,1.4,-.2,0,-.1, -.4,0,0,-1.3,.4,-.3,-.1,-1.1,0],
 [-.4,.3,.1,.1,.8,-.1,0,-1.8,-.5, .3,0,1.6,1.6,-2,1,0,.5,1.8],
 [.6,.6,.1,-.2,.8,0,-.1,0,-1.2, -.1,na,.6,.6,-1.3,0,5,-.7,1.8],
 [-.3,.1,-.9,-.7,-.7,-.5,-1.5,-1.3,-1.2, .9,-.1,-.7,-.7,.9,1.8,-.4,-.1,-.9],
 [-.8,.4,.2,.2,.6,.2,.2,0,-.2, .2,.2,-.1,.4,-.8,-1.5,0,0,.4],
 [0,.1,-.1,.4,.7,.4,0,-.1,-.1, 0,-.9,-.8,-1.1,-.5,-2.4,.6,-.2,-.2],
 [-.4,0,.2,.1,.6,-.8,-.3,0,0, 0,-1.4,-.7,-.3,-.2,-.6,-.7,-.2,-.1],
 [-.6,-.1,-1,-.3,.6,-.4,-.4,0,-.4, 0,1,-.1,-.5,1.1,0,0,-.9,-.9],
 [0,0,0,0,0,0,0,0,0, 0,0,0,0,0,0,0,0,0],
]

b_groups = ['no TNF-α', 'with TNF-α', 'no TNF-α', 'with TNF-α']
c_groups = ['day 0', 'day 7', 'day 0', 'day 7']
row_breaks = [2, 11, 14, 15, 21, 25]
col_breaks = [9, 17, 26]
y_ticks = [-20, -10, 0, 10, 20]

b_labels = ['Sulfo-', 'transferase', 'HSPG/CSPG', 'Degradation', 'enzymes', 'Collagen',
            'Cholesterol', 'transport', 'non-sulfated', 'GAG', 'HK']
c_labels = ['Sulfo-', 'transferase', 'HSPG/CSPG', 'Degradation', 'enzymes', 'Collagen',
            'Cholesterol', 'transpor', 'non-sulfated', 'GAG', 'HK']
b_label_y = [1465, 1515, 1606, 1699, 1747, 1840, 1930, 1981, 2071, 2115, 2210]
c_label_y = [2862, 2912, 3004, 3099, 3149, 3241, 3335, 3385, 3477, 3523, 3618]

cmap = LinearSegmentedColormap.from_list('gbr', [(0, 0, 0)[:0] + (0, 1, 0), (0, 0, 0), (1, .13, 0)])
cmap.set_bad('#BEBEBE')
px = 72 / 100   # font points per pixel at dpi 100


def axes_px(fig, left, top, right, bottom):
    return fig.add_axes([left / W, 1 - bottom / H, (right - left) / W, (bottom - top) / H])


def band_xy(pts):
    x, y = [], []
    for i, band in enumerate(pts):
        for p in band:
            x.append(i + p[0] / 100)
            y.append(p[1])
    return x, y


fig = plt.figure(figsize=(W / 100, H / 100), dpi=100)
ov = fig.add_axes([0, 0, 1, 1])
ov.set_xlim(0, W)
ov.set_ylim(H, 0)
ov.axis('off')

# panel A
ax = axes_px(fig, 313, 43, 2315, 930)
ax.set_xlim(-.811, 18.51)
ax.set_ylim(-23.05, 21.35)
for i in range(18):
    if i < 9:
        c = '#F9D6FC' if i % 2 == 0 else '#FAE8FD'
    else:
        c = '#BFFDD5' if i % 2 == 0 else '#E5FDEE'
    ax.axvspan(i, i + 1, color=c, lw=0, zorder=0)
rx, ry = band_xy(red_pts)
gx, gy = band_xy(gray_pts)
tx, ty = band_xy(teal_pts)
ax.scatter(rx, ry, s=56, c='#FF0000', lw=0, zorder=2)
ax.scatter(gx, gy, s=34, c='#757575', lw=0, zorder=3)
ax.scatter(tx, ty, s=16, c='#2A9098', lw=0, zorder=4)
ax.set_xticks([])
ax.set_yticks(y_ticks)
ax.tick_params(axis='y', labelsize=84 * px, length=17 * px, width=4 * px, pad=2)
ax.set_ylabel('Fold difference', fontsize=82 * px, va='center')
ax.yaxis.set_label_coords(-.1164, .4915)
for s in ax.spines.values():
    s.set_linewidth(4.5 * px)

ov.add_patch(Rectangle((1512, 742), 766, 159, fc='white', ec='black', lw=3.5 * px, zorder=6))
leg = fig.add_axes([0, 0, 1, 1], zorder=5)
leg.set_xlim(0, W)
leg.set_ylim(H, 0)
leg.axis('off')
leg.add_patch(Rectangle((1512, 742), 766, 159, fc='white', ec='black', lw=3.5 * px))
leg.scatter([1538], [786], s=56, c='#FF0000', lw=0)
leg.scatter([1538], [846], s=34, c='#606060', lw=0)
leg.text(1585, 787, 'With vs. without TNF-α', fontsize=66 * px, va='center', ha='left')
leg.text(1585, 855, 'Day 7 vs. day 0', fontsize=66 * px, va='center', ha='left')

ov.text(867, 988, 'HUAECs', color='#7030A0', fontsize=66 * px, fontweight='bold', ha='center', va='center')
ov.text(1807, 988, 'HUVECs', color='#00B050', fontsize=66 * px, fontweight='bold', ha='center', va='center')
ov.text(72, 57, 'A', fontsize=96 * px, fontweight='bold', ha='center', va='center')
ov.text(65, 1156, 'B', fontsize=96 * px, fontweight='bold', ha='center', va='center')
ov.text(67, 2496, 'C', fontsize=96 * px, fontweight='bold', ha='center', va='center')
ov.text(185, 1163, 'Fold changes in gene expression on day 7 vs day 0', fontsize=81 * px, va='center', ha='left')
ov.text(188, 2503, 'Fold changes in gene expression after TNF-α treatment vs', fontsize=81 * px, va='center', ha='left')
ov.text(197, 2587, 'without TNF-α treatment', fontsize=81 * px, va='center', ha='left')


def heat_panel(huaec, huvec, groups, group_colors, labels, label_y, dy, group_x, yellow):
    data = np.hstack([np.array(huaec, dtype=float), np.array(huvec, dtype=float)])
    top, bottom = 1431 + dy, 2236 + dy
    hm = axes_px(fig, 402, top, 2356, bottom)
    hm.imshow(np.ma.masked_invalid(data), cmap=cmap, vmin=-5, vmax=5, aspect='auto', interpolation='nearest')
    hm.axis('off')
    for r in row_breaks:
        hm.axhline(r - .5, color='#E8E4E0', lw=6 * px)
    for c in col_breaks:
        hm.axvline(c - .5, color='white', lw=7 * px)
    hm.add_patch(Rectangle((-.5, 4.5), 35, 1, fc='none', ec='#FF40F0', lw=5 * px, clip_on=False, zorder=5))
    if yellow:
        hm.add_patch(Rectangle((-.5, 9.5), 35, 1, fc='none', ec='#FFFF00', lw=6 * px, clip_on=False, zorder=5))

    # group and cell type header bars
    edges = [(403, 898), (905, 1347), (1353, 1851), (1857, 2355)]
    for (a, b), g, gc, xc in zip(edges, groups, group_colors, group_x):
        ov.add_patch(Rectangle((a, top - 179), b - a, 82, fc=gc, lw=0))
        ov.text(xc, top - 139, g, fontsize=82 * px, ha='center', va='center')
    ov.add_patch(Rectangle((403, top - 86), 944, 79, fc='#808080', lw=0))
    ov.add_patch(Rectangle((1353, top - 86), 1002, 79, fc='black', lw=0))
    ov.text(903, top - 45, 'HUAECs', fontsize=82 * px, ha='center', va='center')
    ov.text(1880, top - 45, 'HUVECs', color='#BEBEBE', fontsize=82 * px, ha='center', va='center')

    # grey tabs joining the gene family names to the rows
    tabs = [
        [(21, 1431), (401, 1431), (401, 1499), (356, 1554), (21, 1554)],
        [(21, 1651), (356, 1651), (401, 1770), (401, 1790), (21, 1790)],
        [(356, 1790), (401, 1790), (401, 1863)],
        [(21, 1891), (351, 1891), (401, 1895), (401, 2069), (356, 2030), (21, 2030)],
        [(21, 2168), (354, 2168), (401, 2202), (401, 2238), (21, 2238)],
    ]
    for t in tabs:
        ov.add_patch(Polygon([(x, y + dy) for x, y in t], fc='#D9D9D9', lw=0))
    for s, y in zip(labels, label_y):
        ov.text(39, y, s, fontsize=57 * px, ha='left', va='center')

    # colour key
    cax = axes_px(fig, 2004, 2279 + dy * .985, 2310, 2319 + dy * .985)
    sm = ScalarMappable(Normalize(-5.28, 5.38), cmap)
    cb = fig.colorbar(sm, cax=cax, orientation='horizontal')
    cb.outline.set_visible(False)
    cb.set_ticks([-5, 0, 5], labels=[])
    cax.tick_params(axis='x', top=True, bottom=True, direction='in', color='white', width=5 * px, length=12 * px)
    for xc, s in zip([2020, 2159, 2298], ['−5', '0', '5']):
        ov.text(xc, 2355 + dy * .985, s, fontsize=48 * px, ha='center', va='center')


heat_panel(b_huaec, b_huvec, b_groups, ['#FFA500', '#00B2A9', '#FFA500', '#00B2A9'], b_labels, b_label_y, 0,
           [666, 1134, 1607, 2123], False)
heat_panel(c_huaec, c_huvec, c_groups, ['#DAAB7C', '#EE5F5F', '#DAAB7C', '#EE5F5F'], c_labels, c_label_y, 1406,
           [635, 1137, 1618, 2121], True)

fig.savefig('out.png', dpi=100)
